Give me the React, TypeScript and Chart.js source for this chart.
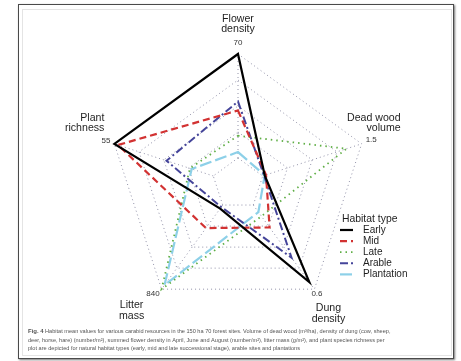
import React, { useEffect, useRef } from "react";
import { Chart, registerables } from "chart.js";

Chart.register(...registerables);

// Axes of the radar, clockwise from the top
const AXIS_TITLES = [
  ["Flower", "density"],
  ["Dead wood", "volume"],
  ["Dung", "density"],
  ["Litter", "mass"],
  ["Plant", "richness"],
];
const AXIS_MAX = [70, 1.5, 0.6, 840, 55];
const AXIS_MAX_LABELS = ["70", "1.5", "0.6", "840", "55"];

// Habitat means per axis (raw units)
const HABITATS = ["Early", "Mid", "Late", "Arable", "Plantation"];
const EARLY = [70, 0.03, 0.55, 35, 55];
const MID = [32, 0.05, 0.16, 230, 53];
const LATE = [15, 1.27, 0.08, 840, 13];
const ARABLE = [38, 0.02, 0.375, 20, 26];
const PLANTATION = [4, 0.03, 0.05, 800, 12];

const CAPTION = [
  "Habitat mean values for various carabid resources in the 150 ha 70 forest sites. Volume of dead wood (m³/ha), density of dung (cow, sheep,",
  "deer, horse, hare) (number/m²), summed flower density in April, June and August (number/m²), litter mass (g/m²), and plant species richness per",
  "plot are depicted for natural habitat types (early, mid and late successional stage), arable sites and plantations",
];

const STYLES = [
  { color: "#000000", width: 2.2, dash: [] as number[], cap: "butt" },
  { color: "#d23232", width: 2.2, dash: [7, 4], cap: "butt" },
  { color: "#5fae45", width: 1.8, dash: [1.5, 4], cap: "butt" },
  { color: "#45459a", width: 2, dash: [8, 3, 2, 3], cap: "butt" },
  { color: "#8dd0e8", width: 2.2, dash: [12, 4], cap: "butt" },
];

const GRID_COLOR = "rgba(110,110,140,0.75)";
const FONT = '"Liberation Sans", Arial, sans-serif';

const normalise = (vals: number[]) => vals.map((v, i) => v / AXIS_MAX[i]);

// label placement relative to each outer vertex
const TITLE_POS = [
  { dx: 0, dy: -35, align: "center" },
  { dx: 39, dy: -26, align: "right" },
  { dx: 14, dy: 19, align: "center" },
  { dx: -30, dy: 16, align: "center" },
  { dx: -10, dy: -26, align: "right" },
];
const MAX_POS = [
  { dx: 0, dy: -11, align: "center" },
  { dx: 4, dy: -4, align: "left" },
  { dx: -3, dy: 5, align: "left" },
  { dx: -2, dy: 5, align: "right" },
  { dx: -4, dy: -3, align: "right" },
];

const decorPlugin = {
  id: "radarDecor",
  beforeDatasetsDraw(chart: any) {
    const s = chart.scales.r;
    const ctx = chart.ctx as CanvasRenderingContext2D;
    const r0 = s.getDistanceFromCenterForValue(0);
    const r1 = s.getDistanceFromCenterForValue(1);
    ctx.save();
    ctx.strokeStyle = GRID_COLOR;
    ctx.lineWidth = 1;
    ctx.setLineDash([1, 3]);
    for (let i = 0; i < AXIS_TITLES.length; i++) {
      const a = s.getPointPosition(i, r0);
      const b = s.getPointPosition(i, r1);
      ctx.beginPath();
      ctx.moveTo(a.x, a.y);
      ctx.lineTo(b.x, b.y);
      ctx.stroke();
    }
    ctx.restore();
  },
  afterDraw(chart: any) {
    const s = chart.scales.r;
    const ctx = chart.ctx as CanvasRenderingContext2D;
    const R = s.getDistanceFromCenterForValue(1);
    ctx.save();
    ctx.textBaseline = "middle";
    for (let i = 0; i < AXIS_TITLES.length; i++) {
      const p = s.getPointPosition(i, R);
      const t = TITLE_POS[i];
      ctx.fillStyle = "#1e1e1e";
      ctx.font = `10.6px ${FONT}`;
      ctx.textAlign = t.align as CanvasTextAlign;
      AXIS_TITLES[i].forEach((line, k) => {
        ctx.fillText(line, p.x + t.dx, p.y + t.dy + k * 10.5);
      });
      const m = MAX_POS[i];
      ctx.fillStyle = "#333333";
      ctx.font = `8px ${FONT}`;
      ctx.textAlign = m.align as CanvasTextAlign;
      ctx.fillText(AXIS_MAX_LABELS[i], p.x + m.dx, p.y + m.dy);
    }

    // legend
    ctx.textAlign = "left";
    ctx.fillStyle = "#1e1e1e";
    ctx.font = `10.4px ${FONT}`;
    ctx.fillText("Habitat type", 342, 219);
    ctx.font = `10px ${FONT}`;
    HABITATS.forEach((name, k) => {
      const y = 230 + k * 11.1;
      const st = STYLES[k];
      ctx.save();
      ctx.strokeStyle = st.color;
      ctx.lineWidth = st.width;
      ctx.setLineDash(st.dash);
      ctx.beginPath();
      ctx.moveTo(340, y);
      ctx.lineTo(353, y);
      ctx.stroke();
      ctx.restore();
      ctx.fillStyle = "#1e1e1e";
      ctx.fillText(name, 363, y);
    });

    // caption
    ctx.fillStyle = "#555555";
    ctx.textBaseline = "alphabetic";
    ctx.font = `bold 6px ${FONT}`;
    ctx.fillText("Fig. 4", 28, 333);
    ctx.font = `5.6px ${FONT}`;
    ctx.fillText(CAPTION[0], 45, 333, 390);
    ctx.fillText(CAPTION[1], 28, 341.5, 408);
    ctx.fillText(CAPTION[2], 28, 350, 310);
    ctx.restore();
  },
};

export default function App() {
  const ref = useRef<HTMLCanvasElement | null>(null);

  useEffect(() => {
    if (!ref.current) return;
    const series = [EARLY, MID, LATE, ARABLE, PLANTATION];
    const chart = new Chart(ref.current, {
      type: "radar",
      data: {
        labels: AXIS_TITLES.map((t) => t.join(" ")),
        datasets: series.map((vals, k) => ({
          label: HABITATS[k],
          data: normalise(vals),
          borderColor: STYLES[k].color,
          borderWidth: STYLES[k].width,
          borderDash: STYLES[k].dash,
          borderCapStyle: STYLES[k].cap as CanvasLineCap,
          backgroundColor: "rgba(0,0,0,0)",
          fill: false,
          pointRadius: 0,
          pointHoverRadius: 0,
          tension: 0,
        })),
      },
      options: {
        responsive: false,
        animation: false,
        layout: { padding: { left: 108, right: 93, top: 54, bottom: 47 } },
        plugins: { legend: { display: false }, tooltip: { enabled: false } },
        scales: {
          r: {
            min: -0.25,
            max: 1,
            ticks: { stepSize: 0.25, display: false },
            pointLabels: { display: false },
            angleLines: { display: false },
            grid: { color: GRID_COLOR, lineWidth: 1 },
            border: { dash: [1, 3] },
          },
        },
      },
      plugins: [decorPlugin],
    });
    return () => chart.destroy();
  }, []);

  return (
    <div
      style={{
        position: "fixed",
        left: 0,
        top: 0,
        width: 461,
        height: 361,
        background: "#ffffff",
        overflow: "hidden",
      }}
    >
      <div
        style={{
          position: "absolute",
          left: 18,
          top: 4,
          width: 434,
          height: 353,
          border: "1px solid #4a4a4a",
          boxShadow: "1px 1px 2px rgba(0,0,0,0.55)",
          background: "#ffffff",
        }}
      />
      <div
        style={{
          position: "absolute",
          left: 22,
          top: 9,
          width: 428,
          height: 345,
          border: "1px solid #e4e4e4",
        }}
      />
      <canvas
        ref={ref}
        width={461}
        height={361}
        style={{ position: "absolute", left: 0, top: 0, width: 461, height: 361 }}
      />
    </div>
  );
}
